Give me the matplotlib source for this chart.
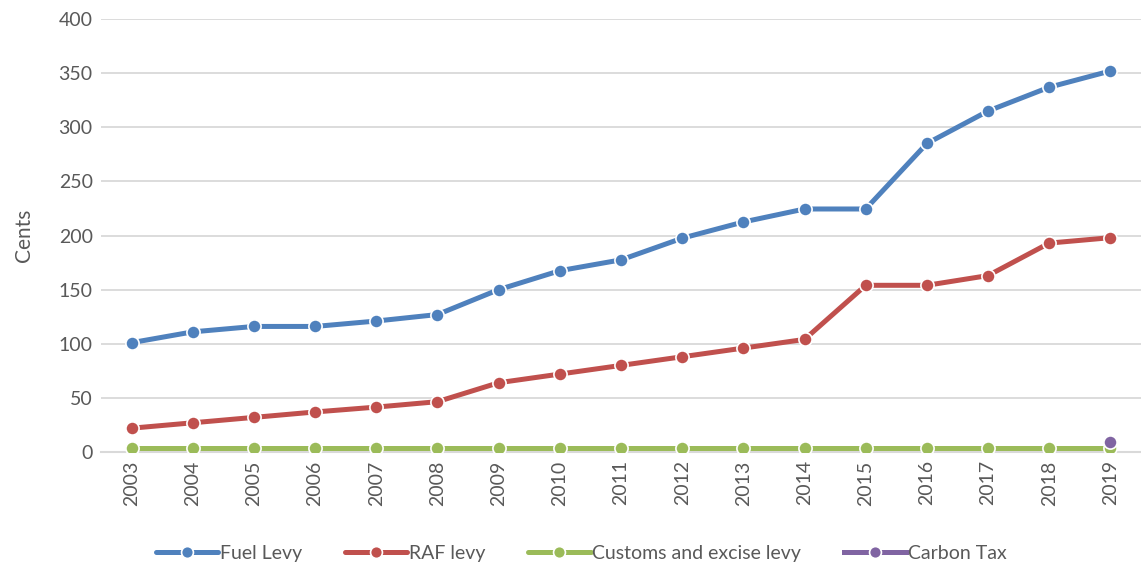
import matplotlib
matplotlib.use("Agg")
import matplotlib.pyplot as plt

years = [str(y) for y in range(2003, 2020)]
fuel_levy = [101, 111, 116, 116, 121, 127, 150, 167.5, 177.5, 197.5, 212.5, 224.5, 224.5, 285, 315, 337, 352]
raf_levy = [22, 27, 32, 37, 41.5, 46.5, 64, 72, 80, 88, 96, 104, 154, 154, 163, 193, 198]
customs_levy = [4] * 17
carbon_tax_years = ["2019"]
carbon_tax = [9]

plt.rcParams["font.family"] = ["Lato", "DejaVu Sans"]
grey = "#595959"

fig = plt.figure(figsize=(11.41, 5.69), dpi=100)
ax = fig.add_axes([0.0885, 0.2056, 0.9115, 0.761])

x = list(range(len(years)))
series = [
    ("Fuel Levy", fuel_levy, "#4f81bd"),
    ("RAF levy", raf_levy, "#c0504d"),
    ("Customs and excise levy", customs_levy, "#9bbb59"),
]
for name, vals, col in series:
    ax.plot(x, vals, color=col, lw=3.6, marker="o", ms=9.5, mfc=col,
            mec="white", mew=1.2, label=name, zorder=3, solid_capstyle="round")
cx = [years.index(y) for y in carbon_tax_years]
ax.plot(cx, carbon_tax, color="#8064a2", lw=3.6, marker="o", ms=9.5, mfc="#8064a2",
        mec="white", mew=1.2, label="Carbon Tax", zorder=4)

ax.set_xlim(-0.5, len(years) - 0.5)
ax.set_ylim(0, 400)
ax.set_yticks(range(0, 401, 50))
ax.set_xticks(x)
ax.set_xticklabels(years, rotation=90)
ax.grid(axis="y", color="#d9d9d9", lw=1.3)
ax.set_axisbelow(True)
for s in ["top", "right", "left"]:
    ax.spines[s].set_visible(False)
ax.spines["bottom"].set_color("#d9d9d9")
ax.spines["bottom"].set_linewidth(1.5)
ax.tick_params(axis="both", length=0, labelsize=14, colors=grey, pad=6)
ax.set_ylabel("Cents", fontsize=15, color=grey, labelpad=18)

ax.legend(loc="upper center", bbox_to_anchor=(0.462, -0.175), ncol=4, frameon=False,
          fontsize=14, labelcolor=grey, handlelength=3.2, columnspacing=2.2,
          handletextpad=0.1, markerscale=0.9)

fig.savefig("out.png", dpi=100)
